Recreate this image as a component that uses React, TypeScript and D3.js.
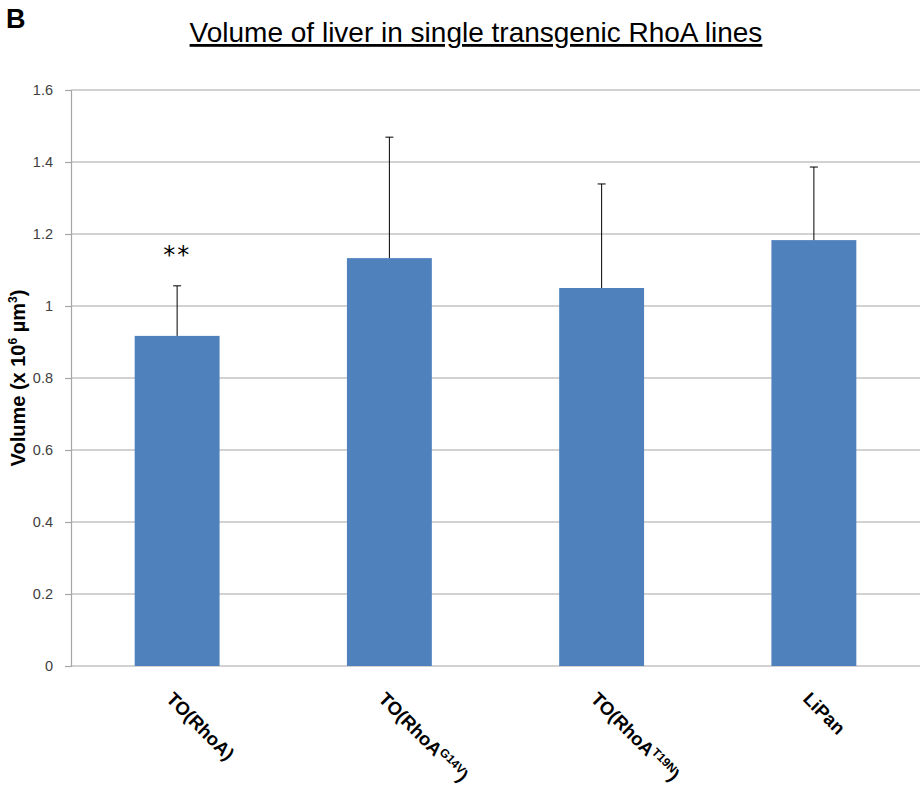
import React, { useEffect, useRef } from 'react';
import * as d3 from 'd3';

// Data
const categories = ['TO(RhoA)', 'TO(RhoA^G14V)', 'TO(RhoA^T19N)', 'LiPan'];
const volumes = [0.917, 1.133, 1.05, 1.183];
const errors = [0.139, 0.336, 0.289, 0.203];
const yTicks = [0, 0.2, 0.4, 0.6, 0.8, 1, 1.2, 1.4, 1.6];
const significance = ['**', '', '', ''];

const App = () => {
  const ref = useRef<SVGSVGElement | null>(null);

  useEffect(() => {
    const svg = d3.select(ref.current);
    svg.selectAll('*').remove();

    const width = 921;
    const height = 786;
    const margin = { top: 90, right: 1, bottom: 120, left: 71 };
    const font = 'Liberation Sans, Arial, sans-serif';

    const x = d3
      .scaleBand()
      .domain(categories)
      .range([margin.left, width - margin.right])
      .paddingInner(0.6)
      .paddingOuter(0.3);

    const y = d3
      .scaleLinear()
      .domain([0, 1.6])
      .range([height - margin.bottom, margin.top]);

    // gridlines
    svg
      .append('g')
      .selectAll('line')
      .data(yTicks)
      .join('line')
      .attr('x1', margin.left)
      .attr('x2', width - margin.right)
      .attr('y1', (d) => y(d))
      .attr('y2', (d) => y(d))
      .attr('stroke', '#a6a6a6')
      .attr('stroke-width', 1.2);

    // y axis
    const yAxis = svg
      .append('g')
      .attr('transform', `translate(${margin.left},0)`)
      .call(
        d3
          .axisLeft(y)
          .tickValues(yTicks)
          .tickSize(6)
          .tickPadding(12)
          .tickFormat((d) => String(d))
      );
    yAxis.select('.domain').attr('stroke', '#a6a6a6').attr('stroke-width', 1.2);
    yAxis.selectAll('.tick line').attr('stroke', '#a6a6a6').attr('stroke-width', 1.2);
    yAxis
      .selectAll('.tick text')
      .attr('font-family', font)
      .attr('font-size', 14.5)
      .attr('fill', '#404040');

    // bars
    svg
      .append('g')
      .selectAll('rect')
      .data(categories)
      .join('rect')
      .attr('x', (d) => x(d)!)
      .attr('width', x.bandwidth())
      .attr('y', (d, i) => y(volumes[i]))
      .attr('height', (d, i) => y(0) - y(volumes[i]))
      .attr('fill', '#4f81bd');

    // error bars (upper only)
    const eb = svg.append('g').attr('stroke', '#000').attr('stroke-width', 1);
    categories.forEach((c, i) => {
      const cx = x(c)! + x.bandwidth() / 2;
      eb.append('line')
        .attr('x1', cx)
        .attr('x2', cx)
        .attr('y1', y(volumes[i]))
        .attr('y2', y(volumes[i] + errors[i]));
      eb.append('line')
        .attr('x1', cx - 4)
        .attr('x2', cx + 4)
        .attr('y1', y(volumes[i] + errors[i]))
        .attr('y2', y(volumes[i] + errors[i]));
    });

    // significance marks
    svg
      .append('g')
      .selectAll('text')
      .data(categories)
      .join('text')
      .attr('x', (d) => x(d)! + x.bandwidth() / 2)
      .attr('y', 263)
      .attr('text-anchor', 'middle')
      .attr('font-family', 'DejaVu Sans, sans-serif')
      .attr('font-size', 24)
      .attr('letter-spacing', 2)
      .text((d, i) => significance[i]);

    // x labels, rotated
    const xl = svg.append('g');
    categories.forEach((c) => {
      const cx = x(c)! + x.bandwidth() / 2;
      const [main, rest] = c.split('^');
      const t = xl
        .append('text')
        .attr('transform', `translate(${cx - 12},${700}) rotate(45)`)
        .attr('font-family', font)
        .attr('font-weight', 'bold')
        .attr('font-size', 18.5);
      if (rest) {
        t.append('tspan').text(main);
        t.append('tspan')
          .attr('font-size', 12)
          .attr('dy', -6)
          .text(rest.replace(')', ''));
        t.append('tspan').attr('dy', 6).text(')');
      } else {
        t.text(main);
      }
    });

    // y axis title
    const yt = svg
      .append('text')
      .attr('transform', `translate(25,${(y(0) + y(1.6)) / 2}) rotate(-90)`)
      .attr('text-anchor', 'middle')
      .attr('font-family', font)
      .attr('font-weight', 'bold')
      .attr('font-size', 20);
    yt.append('tspan').text('Volume (x 10');
    yt.append('tspan').attr('font-size', 12).attr('dy', -8).text('6');
    yt.append('tspan').attr('dy', 8).text(' µm');
    yt.append('tspan').attr('font-size', 12).attr('dy', -8).text('3');
    yt.append('tspan').attr('dy', 8).text(')');

    // title
    svg
      .append('text')
      .attr('x', 476)
      .attr('y', 42)
      .attr('text-anchor', 'middle')
      .attr('font-family', font)
      .attr('font-size', 28)
      .attr('text-decoration', 'underline')
      .text('Volume of liver in single transgenic RhoA lines');

    // panel letter
    svg
      .append('text')
      .attr('x', 6)
      .attr('y', 28)
      .attr('font-family', font)
      .attr('font-weight', 'bold')
      .attr('font-size', 27)
      .text('B');
  }, []);

  return (
    <svg
      ref={ref}
      width={921}
      height={786}
      style={{ position: 'absolute', left: 0, top: 0, background: '#fff' }}
    />
  );
};

export default App;
